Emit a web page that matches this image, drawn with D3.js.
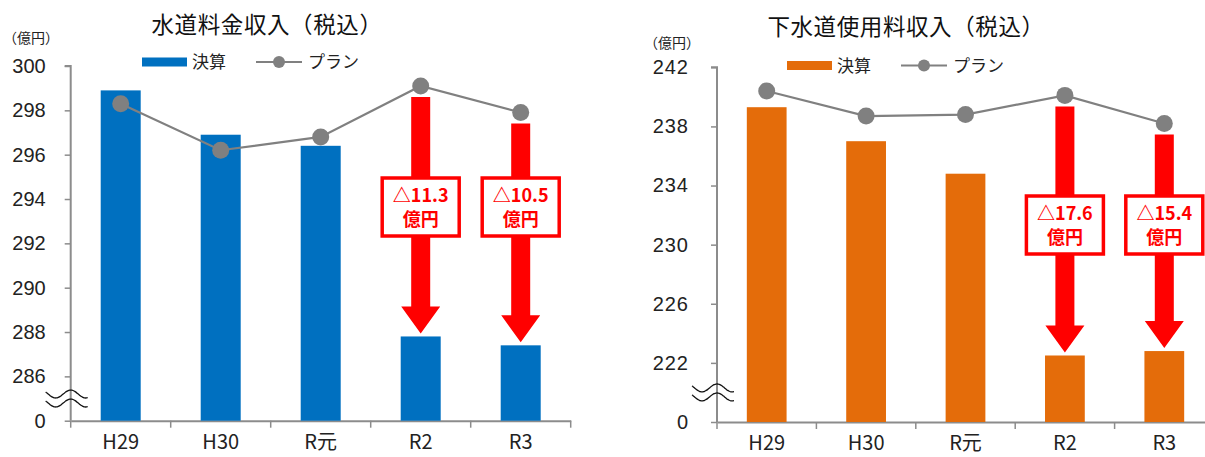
<!DOCTYPE html>
<html>
<head>
<meta charset="utf-8">
<script src="https://cdn.jsdelivr.net/npm/d3@7/dist/d3.min.js"></script>
<style>
  html, body { margin: 0; padding: 0; background: #fff; }
  svg { display: block; }
  text { font-family: "Noto Sans CJK JP", "Noto Sans", sans-serif; }
</style>
</head>
<body>
<svg id="chart" width="1205" height="457"></svg>
<script>
// Fiscal years
const categories = ["H29", "H30", "R元", "R2", "R3"];

// Water charges revenue (億円)
const waterActual = [298.9, 296.9, 296.4, 287.8, 287.4];
const waterPlan   = [298.3, 296.2, 296.8, 299.1, 297.9];
const waterTicks  = [284, 286, 288, 290, 292, 294, 296, 298, 300];
const waterTickLabels = ["0", "286", "288", "290", "292", "294", "296", "298", "300"];

// Sewerage charges revenue (億円)
const sewerActual = [239.3, 237.0, 234.8, 222.5, 222.8];
const sewerPlan   = [240.4, 238.7, 238.8, 240.1, 238.2];
const sewerTicks  = [218, 222, 226, 230, 234, 238, 242];
const sewerTickLabels = ["0", "222", "226", "230", "234", "238", "242"];

// Years where the shortfall against the plan is highlighted
const gapYears = ["R2", "R3"];

const svg = d3.select("#chart");

function drawPanel(cfg) {
  const g = svg.append("g");

  const x = d3.scaleBand()
    .domain(categories)
    .range([cfg.x0, cfg.x1])
    .paddingInner(0.6)
    .paddingOuter(0.3);

  const y = d3.scaleLinear()
    .domain([cfg.ticks[0], cfg.ticks[cfg.ticks.length - 1]])
    .range([cfg.yBase, cfg.yTop]);

  // Title and unit
  g.append("text")
    .attr("x", cfg.titleX).attr("y", cfg.titleY)
    .attr("text-anchor", "middle")
    .attr("font-size", 22.5)
    .attr("letter-spacing", 0.6)
    .attr("fill", "#111")
    .text(cfg.title);

  g.append("text")
    .attr("x", cfg.unitX).attr("y", cfg.unitY)
    .attr("font-size", 14)
    .attr("fill", "#222")
    .text("（億円）");

  // Legend
  const lg = g.append("g").attr("transform", `translate(${cfg.legendX},${cfg.legendY})`);
  lg.append("rect").attr("x", 0).attr("y", -4.5).attr("width", 45).attr("height", 9).attr("fill", cfg.color);
  lg.append("text").attr("x", 50).attr("y", 0).attr("dy", "0.36em")
    .attr("font-size", 17).attr("fill", "#222").text("決算");
  lg.append("line").attr("x1", 114).attr("x2", 160).attr("y1", 0).attr("y2", 0)
    .attr("stroke", "#808080").attr("stroke-width", 2.2);
  lg.append("circle").attr("cx", 137).attr("cy", 0).attr("r", 6).attr("fill", "#808080");
  lg.append("text").attr("x", 166).attr("y", 0).attr("dy", "0.36em")
    .attr("font-size", 17).attr("fill", "#222").text("プラン");

  // Y axis
  const yAxis = d3.axisLeft(y)
    .tickValues(cfg.ticks)
    .tickSize(6)
    .tickPadding(cfg.tickPad)
    .tickFormat((d, i) => cfg.tickLabels[i]);
  const ya = g.append("g")
    .attr("transform", `translate(${cfg.x0},0)`)
    .call(yAxis);
  ya.select(".domain").attr("stroke", "#8c8c8c").attr("stroke-width", 2)
    .attr("d", `M0,${cfg.yBase}V${cfg.yTop}H-6`);
  ya.selectAll(".tick line").attr("stroke", "#8c8c8c").attr("stroke-width", 1.5);
  ya.selectAll(".tick text")
    .attr("font-size", 20).attr("fill", "#222")
    .attr("letter-spacing", cfg.tickSpacing)
    .style("font-family", "'Liberation Sans', 'Noto Sans', sans-serif");

  // X axis
  const xAxis = d3.axisBottom(x).tickSize(0).tickPadding(14);
  const xa = g.append("g")
    .attr("transform", `translate(0,${cfg.yBase})`)
    .call(xAxis);
  xa.select(".domain").attr("stroke", "#8c8c8c").attr("stroke-width", 2);
  xa.selectAll(".tick text").attr("font-size", 20).attr("fill", "#222");
  // category separators
  const step = x.step();
  const sepPos = d3.range(categories.length + 1).map(i => cfg.x0 + i * step);
  xa.selectAll(".sep").data(sepPos).join("line")
    .attr("class", "sep")
    .attr("x1", d => d).attr("x2", d => d)
    .attr("y1", 0).attr("y2", 7)
    .attr("stroke", "#8c8c8c").attr("stroke-width", 1.5);

  // Axis break marks between 0 and the first value tick
  const breakY = (y(cfg.ticks[0]) + y(cfg.ticks[1])) / 2;
  const wave = d3.line().curve(d3.curveBasis);
  [-4.5, 4.5].forEach(off => {
    const pts = d3.range(0, 41).map(i => {
      const xx = cfg.x0 - 25 + i * (42 / 40);
      const yy = breakY + off - 4 * Math.sin(2 * Math.PI * (xx - (cfg.x0 - 7.5)) / 30);
      return [xx, yy];
    });
    g.append("path").attr("d", wave(pts))
      .attr("fill", "none").attr("stroke", "#111").attr("stroke-width", 1.3);
  });

  // Actual results bars
  g.selectAll(".bar").data(categories).join("rect")
    .attr("class", "bar")
    .attr("x", d => x(d))
    .attr("width", x.bandwidth())
    .attr("y", (d, i) => y(cfg.actual[i]))
    .attr("height", (d, i) => cfg.yBase - y(cfg.actual[i]))
    .attr("fill", cfg.color);

  // Plan line
  const cx = d => x(d) + x.bandwidth() / 2;
  const planLine = d3.line().x((d, i) => cx(categories[i])).y(d => y(d));
  g.append("path").attr("d", planLine(cfg.plan))
    .attr("fill", "none").attr("stroke", "#808080").attr("stroke-width", 2.2);
  g.selectAll(".pt").data(cfg.plan).join("circle")
    .attr("class", "pt")
    .attr("cx", (d, i) => cx(categories[i]))
    .attr("cy", d => y(d))
    .attr("r", 8.5)
    .attr("fill", "#808080");

  // Shortfall arrows with labels
  gapYears.forEach(yr => {
    const i = categories.indexOf(yr);
    const plan = cfg.plan[i], actual = cfg.actual[i];
    const c = cx(yr);
    const top = y(plan) + 11;
    const tip = y(actual) - 3;
    const headLen = 27, shaftW = 19, headW = 39;
    const ag = g.append("g");
    ag.append("path")
      .attr("d", `M${c - shaftW / 2},${top}H${c + shaftW / 2}V${tip - headLen}H${c + headW / 2}` +
                 `L${c},${tip}L${c - headW / 2},${tip - headLen}H${c - shaftW / 2}Z`)
      .attr("fill", "#ff0000");
    const bw = 77, bh = 58;
    ag.append("rect")
      .attr("x", c - bw / 2).attr("y", cfg.boxY)
      .attr("width", bw).attr("height", bh)
      .attr("fill", "#fff").attr("stroke", "#ff0000").attr("stroke-width", 3.5);
    ag.append("text")
      .attr("x", c).attr("y", cfg.boxY + 18).attr("dy", "0.36em")
      .attr("text-anchor", "middle").attr("font-size", 18).attr("font-weight", 700)
      .attr("fill", "#ff0000")
      .text("△" + (plan - actual).toFixed(1));
    ag.append("text")
      .attr("x", c).attr("y", cfg.boxY + 42).attr("dy", "0.36em")
      .attr("text-anchor", "middle").attr("font-size", 18).attr("font-weight", 700)
      .attr("fill", "#ff0000")
      .text("億円");
  });
}

drawPanel({
  title: "水道料金収入（税込）",
  titleX: 267, titleY: 33,
  unitX: 3, unitY: 43,
  legendX: 142, legendY: 62,
  color: "#0070c0",
  actual: waterActual, plan: waterPlan,
  ticks: waterTicks, tickLabels: waterTickLabels,
  x0: 70.7, x1: 570.7,
  yBase: 420.7, yTop: 66,
  tickPad: 19, tickSpacing: 0,
  boxY: 178
});

drawPanel({
  title: "下水道使用料収入（税込）",
  titleX: 906, titleY: 35,
  unitX: 644, unitY: 48,
  legendX: 787, legendY: 65.5,
  color: "#e46c0a",
  actual: sewerActual, plan: sewerPlan,
  ticks: sewerTicks, tickLabels: sewerTickLabels,
  x0: 717, x1: 1214,
  yBase: 422, yTop: 67.3,
  tickPad: 22, tickSpacing: 1,
  boxY: 196
});
</script>
</body>
</html>
